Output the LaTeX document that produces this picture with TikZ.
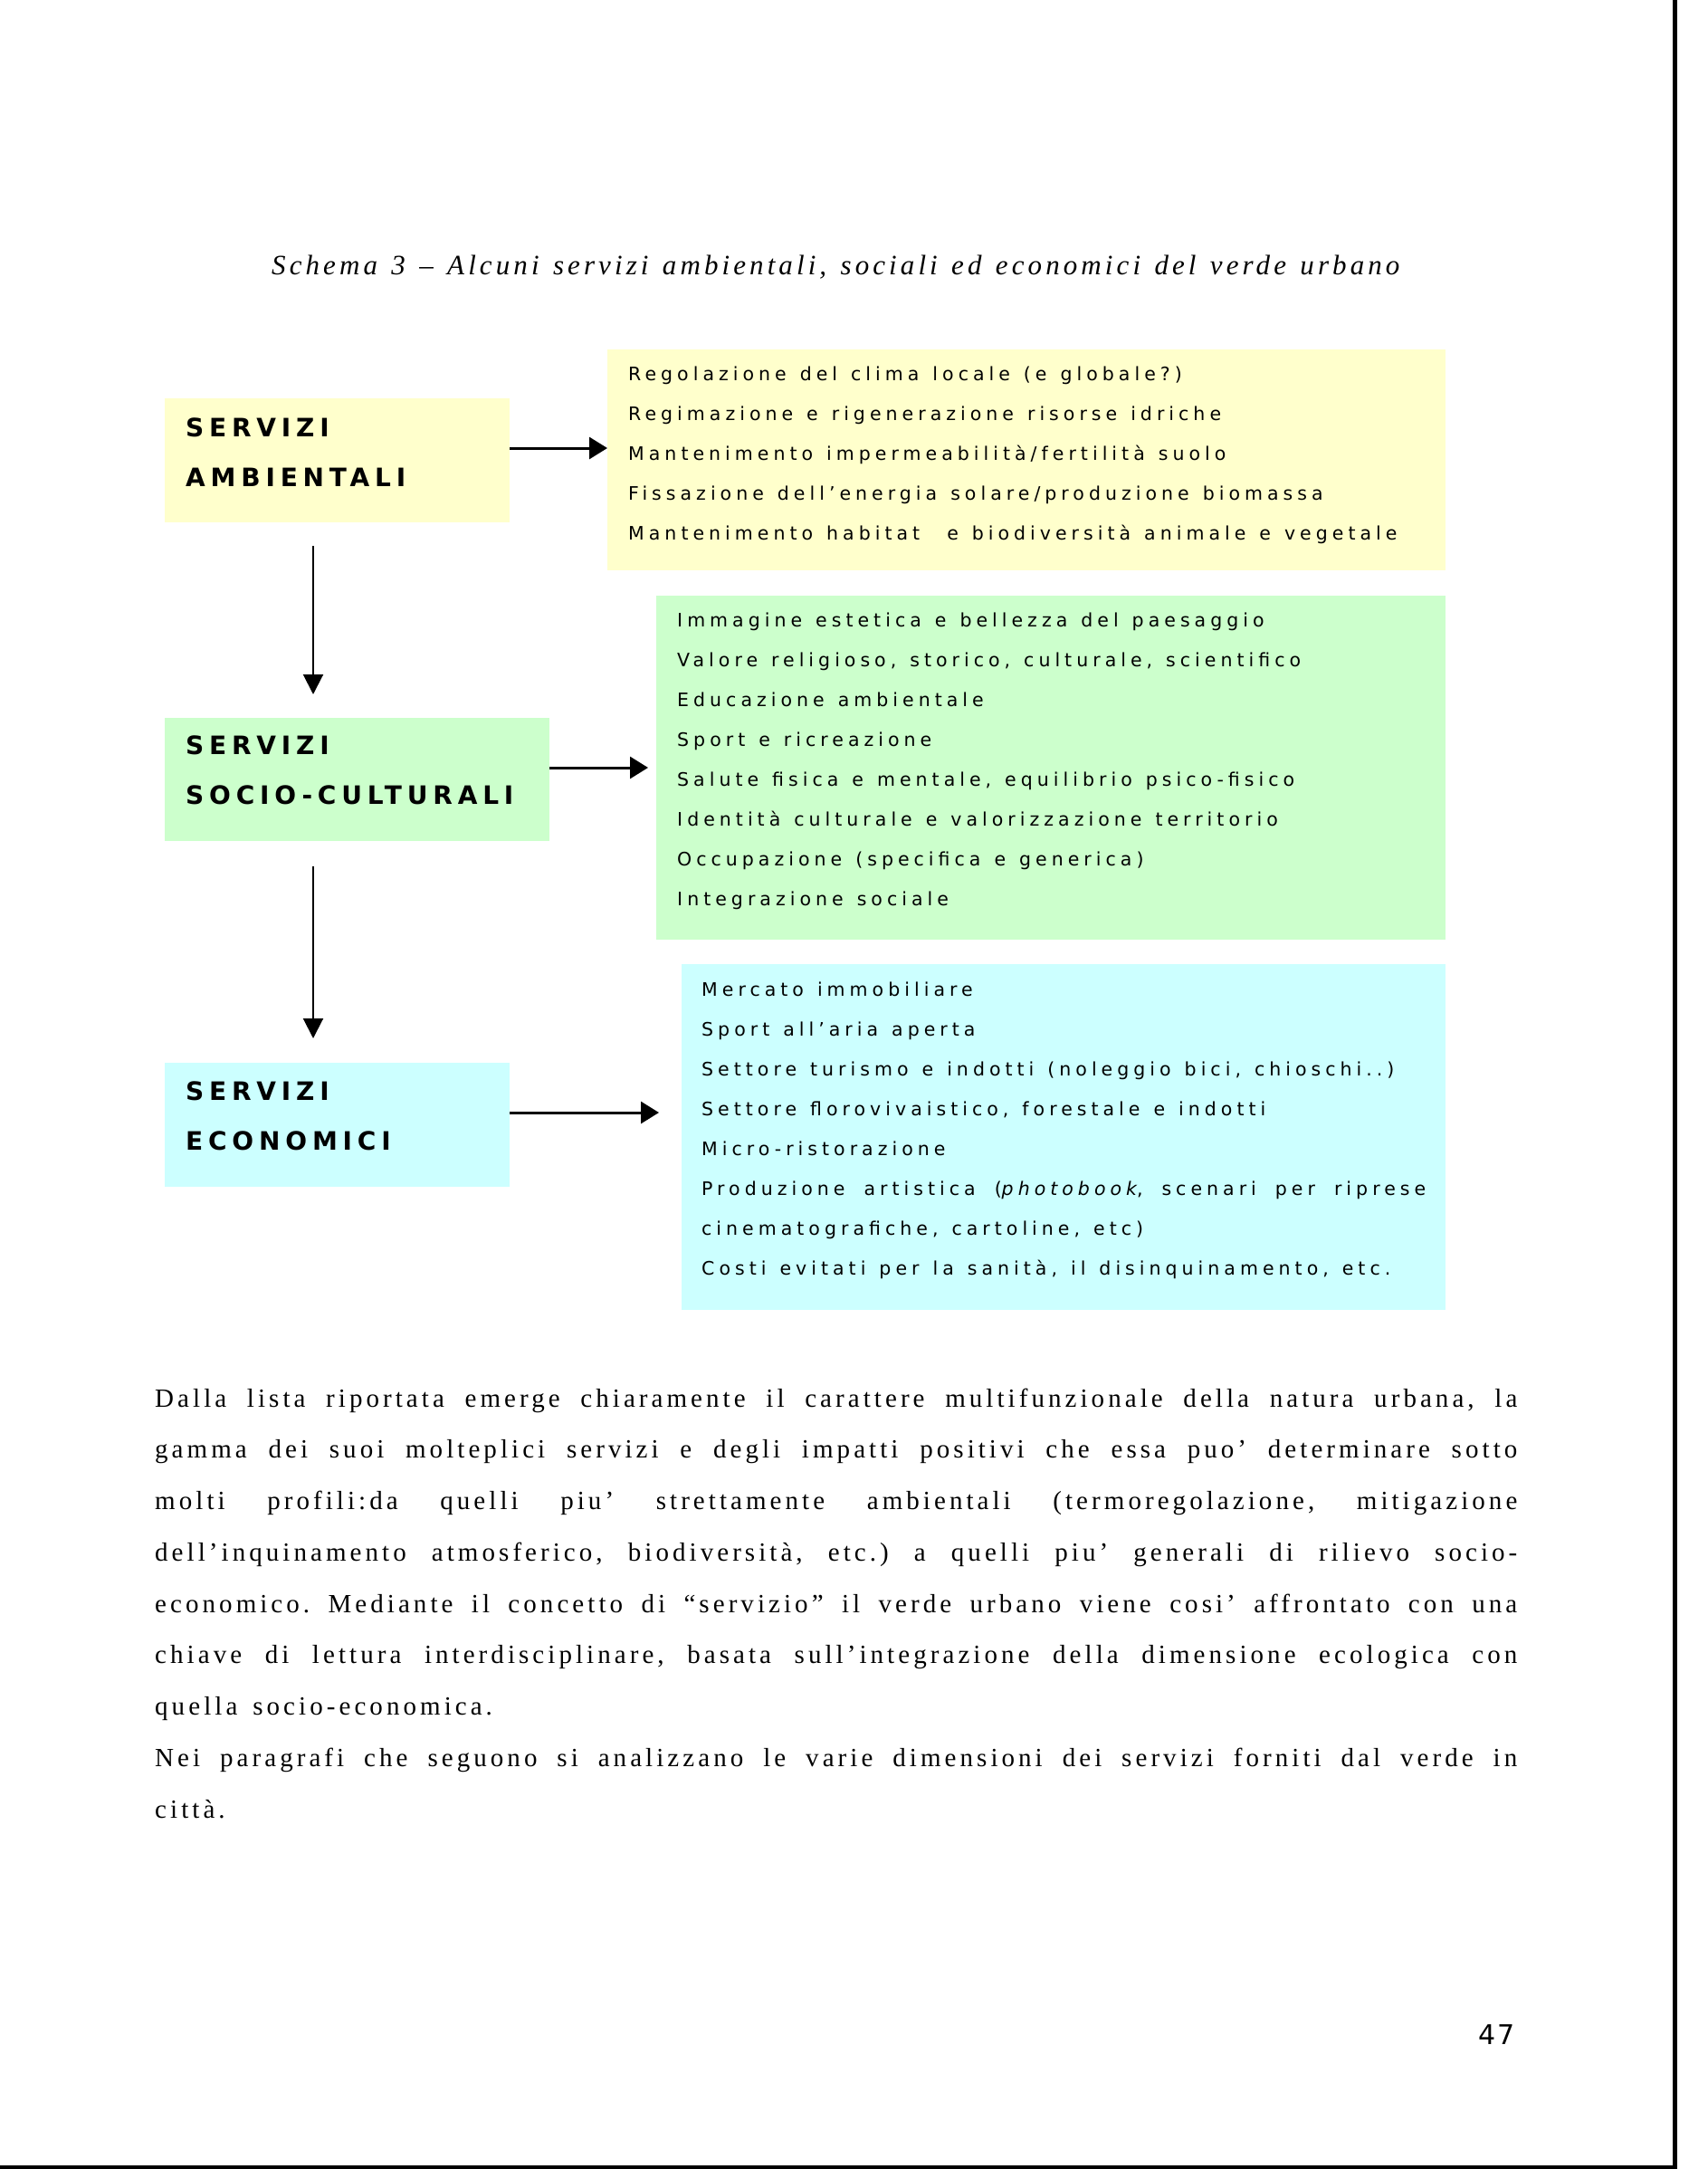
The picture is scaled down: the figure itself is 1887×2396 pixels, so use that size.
\documentclass[tikz,border=0pt]{standalone}
\usepackage{fontspec}
\setmainfont{Liberation Serif}
\newfontfamily\listfont[LetterSpace=24.5, WordSpace=1.3]{DejaVu Sans}
\newfontfamily\labfont[LetterSpace=20.8]{DejaVu Sans}
\newfontfamily\bodyfont[LetterSpace=14, WordSpace=1.5]{Liberation Serif}
\newfontfamily\capfont[LetterSpace=13.2, WordSpace=1.3]{Liberation Serif}
\newfontfamily\numfont[LetterSpace=8]{DejaVu Sans}
\usepackage{xcolor}
\usepackage{tikz}
\usetikzlibrary{arrows.meta, calc}

\definecolor{ylw}{HTML}{FFFFCC}
\definecolor{grn}{HTML}{CCFFCC}
\definecolor{cyn}{HTML}{CCFFFF}

% first line height / last line depth, with the font's own word spaces
\newcommand{\hstrut}[1]{\spaceskip=0pt\xspaceskip=0pt\frenchspacing\rule{0pt}{#1pt}}
\newcommand{\dstrut}[1]{\rule[-#1pt]{0pt}{0pt}}
\newcommand{\jline}[1]{\makebox[1505pt][s]{#1}}

\begin{document}
\begin{tikzpicture}[x=1pt, y=-1pt,
    serv/.style={anchor=north west, inner xsep=23pt, inner ysep=0pt, align=left,
        font=\labfont\bfseries\fontsize{28pt}{55pt}\selectfont},
    list/.style={anchor=north west, inner xsep=23pt, inner ysep=0pt, align=left,
        font=\listfont\fontsize{20.5pt}{44pt}\selectfont},
    harrow/.style={-{Triangle[length=20pt, width=24pt]}, line width=3pt},
    varrow/.style={-{Triangle[length=22pt, width=22pt]}, line width=2pt}]
    % Page
    \fill[white] (0,0) rectangle (1887,2396);
    \useasboundingbox (0,0) rectangle (1887,2396);
    \draw[line width=5pt] (1850.5,0) -- (1850.5,2396);
    \draw[line width=4pt] (0,2394) -- (1853,2394);

    % Caption
    \node[anchor=base west, inner sep=0pt, font=\capfont\itshape\fontsize{31pt}{31pt}\selectfont] (cap) at (300,303)
        {Schema 3 – Alcuni servizi ambientali, sociali ed economici del verde urbano};

    % Servizi ambientali
    \node[serv, fill=ylw, text width=335pt] (ambL) at (182,440) {\hstrut{42}SERVIZI\\AMBIENTALI\dstrut{40}};
    \node[list, fill=ylw, text width=880pt] (ambR) at (671,386) {\hstrut{34}Regolazione del clima locale (e globale?)\\
        Regimazione e rigenerazione risorse idriche\\
        Mantenimento impermeabilità/fertilità suolo\\
        Fissazione dell’energia solare/produzione biomassa\\
        Mantenimento habitat\ \ e biodiversità animale e vegetale\dstrut{34}};

    % Servizi socio-culturali
    \node[serv, fill=grn, text width=379pt] (socL) at (182,793) {\hstrut{40}SERVIZI\\SOCIO-CULTURALI\dstrut{41}};
    \node[list, fill=grn, text width=826pt] (socR) at (725,658) {\hstrut{34}Immagine estetica e bellezza del paesaggio\\
        Valore religioso, storico, culturale, scientifico\\
        Educazione ambientale\\
        Sport e ricreazione\\
        Salute fisica e mentale, equilibrio psico-fisico\\
        Identità culturale e valorizzazione territorio\\
        Occupazione (specifica e generica)\\
        Integrazione sociale\dstrut{38}};

    % Servizi economici
    \node[list, fill=cyn, inner xsep=22pt, text width=800pt] (ecoR) at (753,1065) {\hstrut{35}Mercato immobiliare\\
        Sport all’aria aperta\\
        Settore turismo e indotti (noleggio bici, chioschi..)\\
        Settore florovivaistico, forestale e indotti\\
        Micro-ristorazione\\
        \makebox[800pt][s]{Produzione artistica (\textit{photobook}, scenari per riprese}\\
        cinematografiche, cartoline, etc)\\
        Costi evitati per la sanità, il disinquinamento, etc.\dstrut{39}};
    \node[serv, fill=cyn, text width=335pt] (ecoL) at (182,1174) {\hstrut{41}SERVIZI\\ECONOMICI\dstrut{41}};

    % Arrows
    \draw[harrow] ([yshift=-55pt]ambL.north east) -- ([yshift=-55pt]ambL.north east -| ambR.west);
    \draw[harrow, shorten >=9pt] ([yshift=-55pt]socL.north east) -- ([yshift=-55pt]socL.north east -| socR.west);
    \draw[harrow, shorten >=25pt] ([yshift=-55pt]ecoL.north east) -- ([yshift=-55pt]ecoL.north east -| ecoR.west);
    \draw[varrow, shorten <=26pt, shorten >=26pt] ([xshift=164pt]ambL.south west) -- ([xshift=164pt]socL.north west);
    \draw[varrow, shorten <=28pt, shorten >=27pt] ([xshift=164pt]socL.south west) -- ([xshift=164pt]ecoL.north west);

    % Text below
    \node[anchor=north west, inner sep=0pt, text width=1505pt, align=left,
        font=\bodyfont\fontsize{29pt}{56.75pt}\selectfont] (body) at (171,1524) {%
        \hstrut{30}\jline{Dalla lista riportata emerge chiaramente il carattere multifunzionale della natura urbana, la}\\
        \jline{gamma dei suoi molteplici servizi e degli impatti positivi che essa puo’ determinare sotto}\\
        \jline{molti profili:da quelli piu’ strettamente ambientali (termoregolazione, mitigazione}\\
        \jline{dell’inquinamento atmosferico, biodiversità, etc.) a quelli piu’ generali di rilievo socio-}\\
        \jline{economico. Mediante il concetto di “servizio” il verde urbano viene cosi’ affrontato con una}\\
        \jline{chiave di lettura interdisciplinare, basata sull’integrazione della dimensione ecologica con}\\
        quella socio-economica.\\
        \jline{Nei paragrafi che seguono si analizzano le varie dimensioni dei servizi forniti dal verde in}\\
        città.};

    % Page number
    \node[anchor=base west, inner sep=0pt, font=\numfont\fontsize{30pt}{30pt}\selectfont] (pnum) at (1633,2258) {47};
\end{tikzpicture}
\end{document}
